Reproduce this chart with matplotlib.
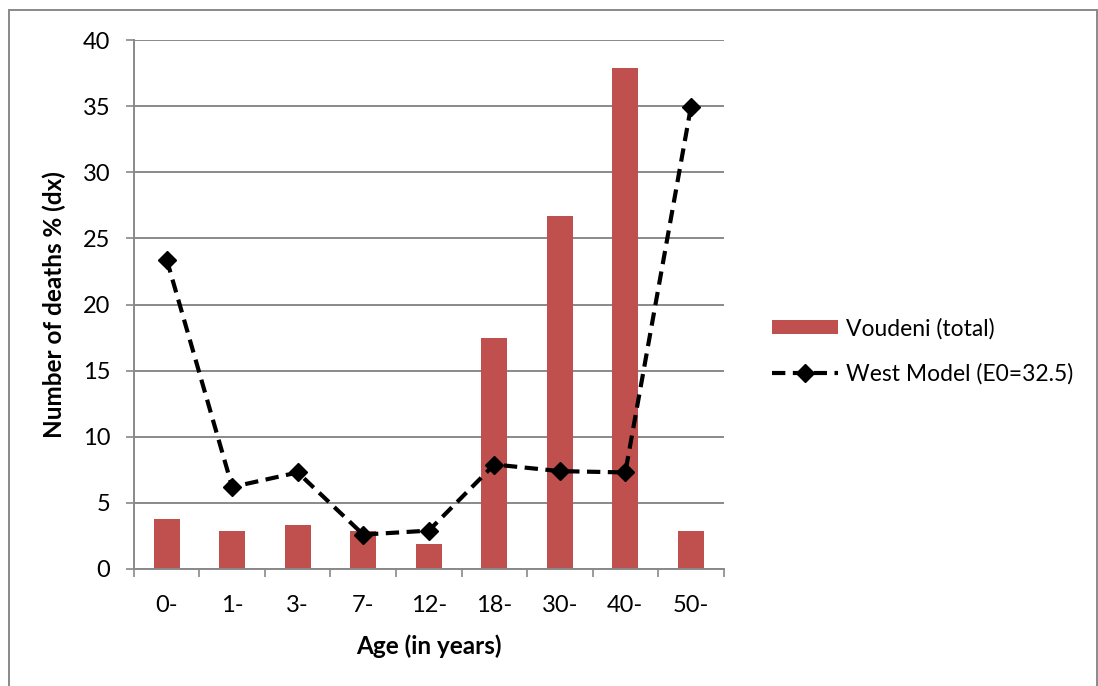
import numpy as np
import matplotlib
matplotlib.use("Agg")
import matplotlib.pyplot as plt
from matplotlib.patches import Rectangle

plt.rcParams['font.family'] = ['Lato', 'DejaVu Sans']

# data
ages = ["0-", "1-", "3-", "7-", "12-", "18-", "30-", "40-", "50-"]
voudeni = [3.8, 2.9, 3.3, 2.9, 1.9, 17.5, 26.7, 37.9, 2.9]
west_model = [23.4, 6.2, 7.3, 2.6, 2.9, 7.9, 7.4, 7.3, 34.9]

grid_col = "#898989"
bar_col = "#C0504D"

fig = plt.figure(figsize=(10.98, 6.86), dpi=100)
ax = fig.add_axes([0.122, 0.1706, 0.537, 0.771])

x = np.arange(len(ages))
bars = ax.bar(x, voudeni, width=0.4, color=bar_col, zorder=2, label="Voudeni (total)")
line, = ax.plot(x, west_model, color="black", linestyle=(0, (3.2, 1.8)), linewidth=3.0,
                marker="D", markersize=9.5, zorder=3, label="West Model (E0=32.5)")

ax.set_xlim(-0.5, len(ages) - 0.5)
ax.set_ylim(0, 40)
ax.set_yticks(np.arange(0, 41, 5))
ax.yaxis.grid(True, color=grid_col, linewidth=1.4)
ax.set_axisbelow(True)

# category boundaries as ticks, labels centred between
ax.set_xticks(np.arange(-0.5, len(ages), 1))
ax.set_xticklabels([])
ax.set_xticks(x, minor=True)
ax.set_xticklabels(ages, minor=True)
ax.tick_params(axis="x", which="major", length=6, width=1.2, color=grid_col, direction="out")
ax.tick_params(axis="x", which="minor", length=0, pad=19, labelsize=17)
ax.tick_params(axis="y", length=6, width=1.2, color=grid_col, direction="out", pad=11, labelsize=17)

for s in ["top", "right"]:
    ax.spines[s].set_visible(False)
for s in ["left", "bottom"]:
    ax.spines[s].set_color(grid_col)
    ax.spines[s].set_linewidth(1.4)

ax.set_xlabel("Age (in years)", fontsize=17.5, fontweight="bold", labelpad=13)
ax.set_ylabel("Number of deaths % (dx)", fontsize=17.5, fontweight="bold", labelpad=12)

fig.legend([bars, line], ["Voudeni (total)", "West Model (E0=32.5)"],
           loc="center left", bbox_to_anchor=(0.684, 0.488), frameon=False,
           fontsize=16.5, handlelength=2.9, handleheight=0.55, labelspacing=1.05,
           handletextpad=0.35)

# chart border
fig.patches.append(Rectangle((9 / 1098, -0.05), 1088 / 1098, 1.05 - 10 / 686,
                             transform=fig.transFigure, fill=False,
                             edgecolor=grid_col, linewidth=1.4))

fig.savefig("out.png", dpi=100)
